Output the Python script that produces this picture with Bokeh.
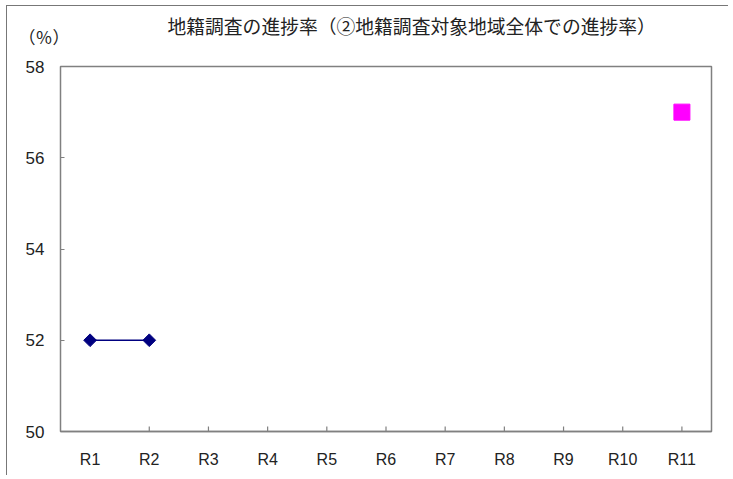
import math
from bokeh.plotting import figure
from bokeh.models import Label, Range1d, FixedTicker
from bokeh.embed import file_html
from bokeh.resources import INLINE

categories = ["R1", "R2", "R3", "R4", "R5", "R6", "R7", "R8", "R9", "R10", "R11"]
series1_cats = ["R1", "R2"]
series1_vals = [52, 52]
series2_cats = ["R11"]
series2_vals = [57]
y_ticks = [50, 52, 54, 56, 58]
title_text = "地籍調査の進捗率（②地籍調査対象地域全体での進捗率）"
unit_text = "（％）"

p = figure(x_range=categories, y_range=Range1d(50, 58), width=722, height=470,
           output_backend="svg", toolbar_location=None,
           min_border_left=53, min_border_right=18, min_border_top=60, min_border_bottom=45)
p.styles = {"border-top": "1px solid #777", "border-left": "1px solid #777",
            "margin-left": "6px", "margin-top": "5px"}
p.background_fill_color = "white"
p.border_fill_color = "white"
p.outline_line_color = "#808080"
p.outline_line_width = 1.5
p.xgrid.grid_line_color = None
p.ygrid.grid_line_color = None

p.title.text = title_text
p.title.text_font = "Noto Sans CJK JP"
p.title.text_font_size = "18.8px"
p.title.text_font_style = "normal"
p.title.text_color = "#222222"
p.title.align = "left"
p.title.offset = 107
p.title.standoff = 5

p.add_layout(Label(x=-42, y=30, x_units="screen", y_units="screen", text=unit_text,
                   text_font="Noto Sans CJK JP", text_font_size="17px",
                   text_color="#222222", text_align="left", text_baseline="middle"),
             "above")

p.yaxis.ticker = FixedTicker(ticks=y_ticks)
p.yaxis.axis_line_color = None
p.yaxis.major_tick_line_color = "#808080"
p.yaxis.major_tick_in = 4
p.yaxis.major_tick_out = 0
p.yaxis.minor_tick_line_color = None
p.yaxis.major_label_text_font = "Liberation Sans"
p.yaxis.major_label_text_font_size = "17px"
p.yaxis.major_label_text_color = "#222222"
p.yaxis.major_label_standoff = 16

p.xaxis.axis_line_color = "#808080"
p.xaxis.axis_line_width = 1.5
p.xaxis.major_tick_line_color = None
p.xaxis.major_label_text_font = "Liberation Sans"
p.xaxis.major_label_text_font_size = "16px"
p.xaxis.major_label_text_color = "#222222"
p.xaxis.major_label_standoff = 13

# category boundary ticks drawn as short segments above the axis
bx = [(c, 0.0) for c in categories[1:]]
p.segment(x0=bx, y0=[50] * len(bx), x1=bx, y1=[50.11] * len(bx),
          line_color="#808080", line_width=1.2)

p.line(series1_cats, series1_vals, line_color="#000080", line_width=1.5)
p.scatter(series1_cats, series1_vals, marker="square", size=9, angle=math.pi / 4,
          fill_color="#000080", line_color="#000080")
p.scatter(series2_cats, series2_vals, marker="square", size=16,
          fill_color="#FF00FF", line_color="#FF00FF")

open("out.html", "w").write(file_html(p, INLINE))
